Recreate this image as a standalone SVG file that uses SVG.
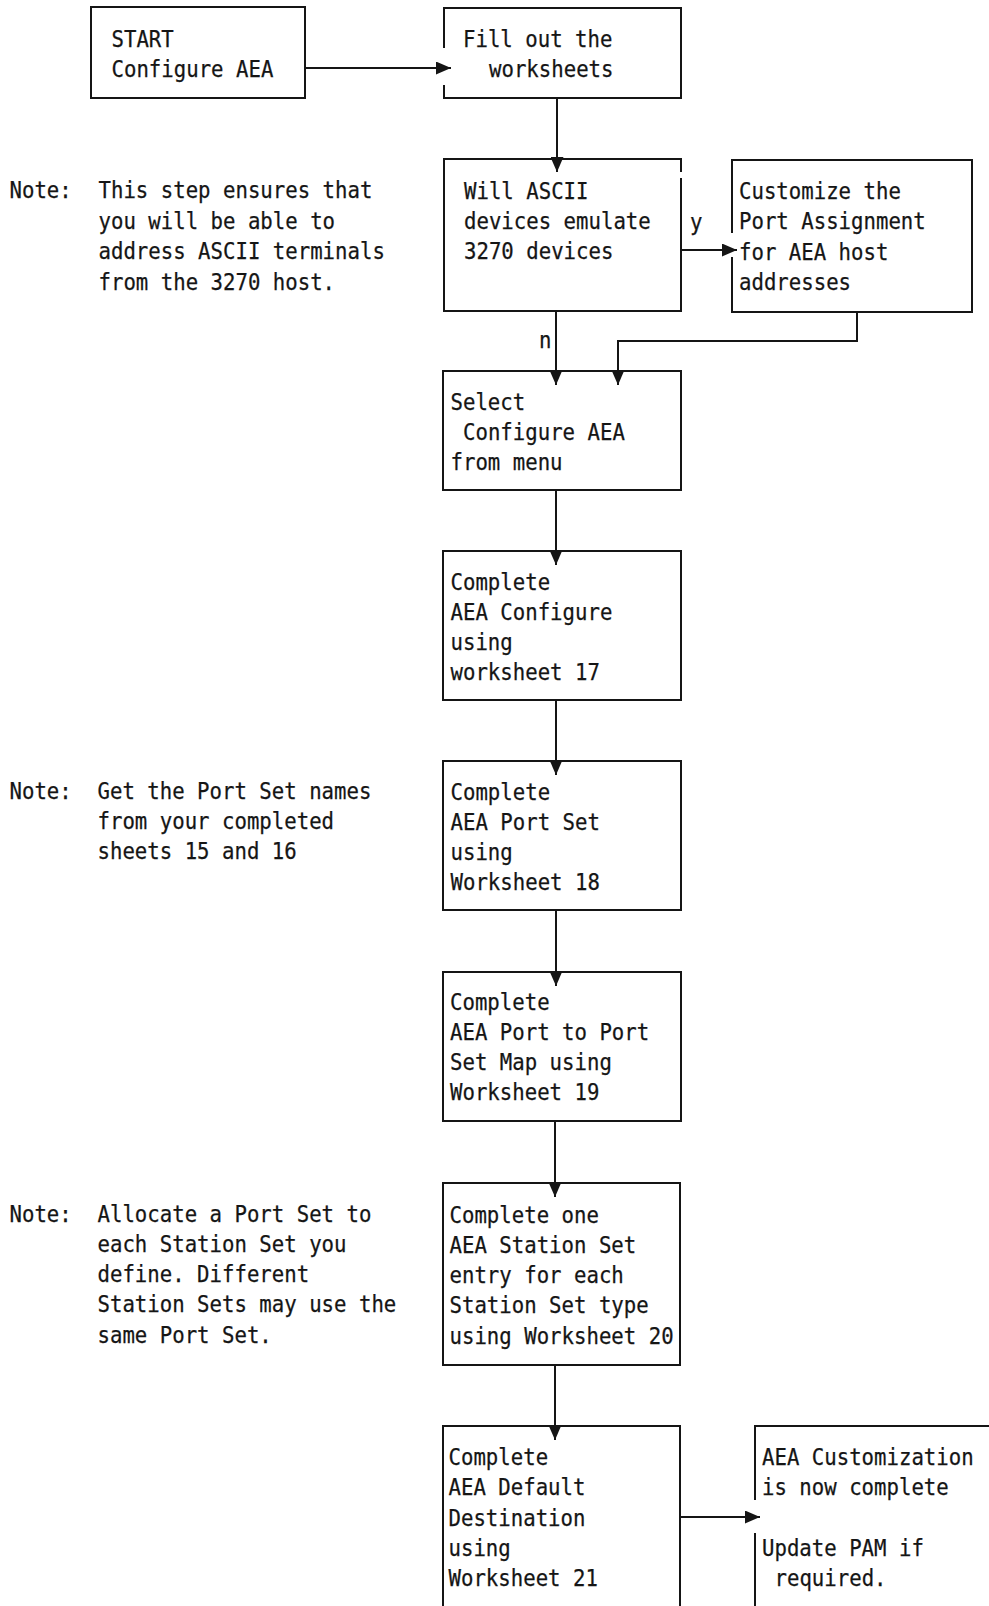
<svg xmlns="http://www.w3.org/2000/svg" width="989" height="1606" viewBox="0 0 989 1606">
  <style>
    .box { fill: none; stroke: #151515; stroke-width: 2; }
    .wire { fill: none; stroke: #151515; stroke-width: 2; }
    text { font-family: "DejaVu Sans Mono", "Liberation Mono", monospace; font-size: 22.5px; fill: #151515; stroke: #151515; stroke-width: 0.25; }
  </style>
  <defs>
    <marker id="arrow" viewBox="0 0 15 13" refX="15" refY="6.5" markerWidth="15" markerHeight="13" markerUnits="userSpaceOnUse" orient="auto">
      <path d="M0,0 L15,6.5 L0,13 z" fill="#151515"/>
    </marker>
  </defs>
  <rect width="989" height="1606" fill="#ffffff"/>

  <!-- connectors -->
  <g id="connectors">
    <path class="wire" d="M305,68 H451" marker-end="url(#arrow)"/>
    <path class="wire" d="M557,98 V172" marker-end="url(#arrow)"/>
    <path class="wire" d="M681,250 H737" marker-end="url(#arrow)"/>
    <text x="690" y="230" textLength="12.45" lengthAdjust="spacingAndGlyphs">y</text>
    <path class="wire" d="M556,311 V385" marker-end="url(#arrow)"/>
    <text x="539" y="348" textLength="12.45" lengthAdjust="spacingAndGlyphs">n</text>
    <path class="wire" d="M857,312 V341 H618 V385" marker-end="url(#arrow)"/>
    <path class="wire" d="M556,490 V565" marker-end="url(#arrow)"/>
    <path class="wire" d="M556,700 V775" marker-end="url(#arrow)"/>
    <path class="wire" d="M556,910 V986" marker-end="url(#arrow)"/>
    <path class="wire" d="M555,1121 V1197" marker-end="url(#arrow)"/>
    <path class="wire" d="M555,1365 V1440" marker-end="url(#arrow)"/>
    <path class="wire" d="M680,1517 H760" marker-end="url(#arrow)"/>
  </g>

  <!-- notes -->
  <g id="note-ascii">
    <text x="9.5" y="198" textLength="62.25" lengthAdjust="spacingAndGlyphs">Note:</text>
    <text x="98.5" y="198" textLength="273.9" lengthAdjust="spacingAndGlyphs">This step ensures that</text>
    <text x="98.5" y="228.5" textLength="236.55" lengthAdjust="spacingAndGlyphs">you will be able to</text>
    <text x="98.5" y="259" textLength="286.35" lengthAdjust="spacingAndGlyphs">address ASCII terminals</text>
    <text x="98.5" y="289.5" textLength="236.55" lengthAdjust="spacingAndGlyphs">from the 3270 host.</text>
  </g>
  <g id="note-portset">
    <text x="9.5" y="798.5" textLength="62.25" lengthAdjust="spacingAndGlyphs">Note:</text>
    <text x="97.5" y="798.5" textLength="273.9" lengthAdjust="spacingAndGlyphs">Get the Port Set names</text>
    <text x="97.5" y="829" textLength="236.55" lengthAdjust="spacingAndGlyphs">from your completed</text>
    <text x="97.5" y="859" textLength="199.2" lengthAdjust="spacingAndGlyphs">sheets 15 and 16</text>
  </g>
  <g id="note-station">
    <text x="9.5" y="1221.5" textLength="62.25" lengthAdjust="spacingAndGlyphs">Note:</text>
    <text x="97.5" y="1221.5" textLength="273.9" lengthAdjust="spacingAndGlyphs">Allocate a Port Set to</text>
    <text x="97.5" y="1251.5" textLength="249" lengthAdjust="spacingAndGlyphs">each Station Set you</text>
    <text x="97.5" y="1281.5" textLength="211.65" lengthAdjust="spacingAndGlyphs">define. Different</text>
    <text x="97.5" y="1312" textLength="298.8" lengthAdjust="spacingAndGlyphs">Station Sets may use the</text>
    <text x="97.5" y="1342.5" textLength="174.3" lengthAdjust="spacingAndGlyphs">same Port Set.</text>
  </g>

  <!-- flow steps -->
  <g id="start">
    <rect class="box" x="91" y="7" width="214" height="91"/>
    <text x="111.5" y="46.7" textLength="62.25" lengthAdjust="spacingAndGlyphs">START</text>
    <text x="111.5" y="76.7" textLength="161.85" lengthAdjust="spacingAndGlyphs">Configure AEA</text>
  </g>
  <g id="fill-worksheets">
    <path class="box" d="M444,48 V8 H681 V98 H444 V85"/>
    <text x="463" y="46.7" textLength="149.4" lengthAdjust="spacingAndGlyphs">Fill out the</text>
    <text x="489" y="76.7" textLength="124.5" lengthAdjust="spacingAndGlyphs">worksheets</text>
  </g>
  <g id="emulate-decision">
    <path class="box" d="M681,178 V311 H444 V159 H681 V172"/>
    <text x="464" y="198.6" textLength="124.5" lengthAdjust="spacingAndGlyphs">Will ASCII</text>
    <text x="464" y="229" textLength="186.75" lengthAdjust="spacingAndGlyphs">devices emulate</text>
    <text x="464" y="259" textLength="149.4" lengthAdjust="spacingAndGlyphs">3270 devices</text>
  </g>
  <g id="customize-port">
    <path class="box" d="M732,233 V160 H972 V312 H732 V257"/>
    <text x="739" y="198.6" textLength="161.85" lengthAdjust="spacingAndGlyphs">Customize the</text>
    <text x="739" y="229" textLength="186.75" lengthAdjust="spacingAndGlyphs">Port Assignment</text>
    <text x="739" y="259.5" textLength="149.4" lengthAdjust="spacingAndGlyphs">for AEA host</text>
    <text x="739" y="290" textLength="112.05" lengthAdjust="spacingAndGlyphs">addresses</text>
  </g>
  <g id="select-configure">
    <rect class="box" x="443" y="371" width="238" height="119"/>
    <text x="450.5" y="409.5" textLength="74.7" lengthAdjust="spacingAndGlyphs">Select</text>
    <text x="463" y="439.5" textLength="161.85" lengthAdjust="spacingAndGlyphs">Configure AEA</text>
    <text x="450.5" y="470" textLength="112.05" lengthAdjust="spacingAndGlyphs">from menu</text>
  </g>
  <g id="aea-configure">
    <rect class="box" x="443" y="551" width="238" height="149"/>
    <text x="450.5" y="589.5" textLength="99.6" lengthAdjust="spacingAndGlyphs">Complete</text>
    <text x="450.5" y="619.5" textLength="161.85" lengthAdjust="spacingAndGlyphs">AEA Configure</text>
    <text x="450.5" y="649.5" textLength="62.25" lengthAdjust="spacingAndGlyphs">using</text>
    <text x="450.5" y="679.5" textLength="149.4" lengthAdjust="spacingAndGlyphs">worksheet 17</text>
  </g>
  <g id="aea-port-set">
    <rect class="box" x="443" y="761" width="238" height="149"/>
    <text x="450.5" y="799.5" textLength="99.6" lengthAdjust="spacingAndGlyphs">Complete</text>
    <text x="450.5" y="829.5" textLength="149.4" lengthAdjust="spacingAndGlyphs">AEA Port Set</text>
    <text x="450.5" y="859.5" textLength="62.25" lengthAdjust="spacingAndGlyphs">using</text>
    <text x="450.5" y="889.5" textLength="149.4" lengthAdjust="spacingAndGlyphs">Worksheet 18</text>
  </g>
  <g id="aea-port-map">
    <rect class="box" x="443" y="972" width="238" height="149"/>
    <text x="450" y="1010" textLength="99.6" lengthAdjust="spacingAndGlyphs">Complete</text>
    <text x="450" y="1040" textLength="199.2" lengthAdjust="spacingAndGlyphs">AEA Port to Port</text>
    <text x="450" y="1070" textLength="161.85" lengthAdjust="spacingAndGlyphs">Set Map using</text>
    <text x="450" y="1100" textLength="149.4" lengthAdjust="spacingAndGlyphs">Worksheet 19</text>
  </g>
  <g id="aea-station-set">
    <rect class="box" x="443" y="1183" width="237" height="182"/>
    <text x="449.5" y="1223" textLength="149.4" lengthAdjust="spacingAndGlyphs">Complete one</text>
    <text x="449.5" y="1253" textLength="186.75" lengthAdjust="spacingAndGlyphs">AEA Station Set</text>
    <text x="449.5" y="1283" textLength="174.3" lengthAdjust="spacingAndGlyphs">entry for each</text>
    <text x="449.5" y="1313" textLength="199.2" lengthAdjust="spacingAndGlyphs">Station Set type</text>
    <text x="449.5" y="1343.5" textLength="224.1" lengthAdjust="spacingAndGlyphs">using Worksheet 20</text>
  </g>
  <g id="aea-default-dest">
    <path class="box" d="M443,1607 V1426 H680 V1607"/>
    <text x="448.5" y="1465" textLength="99.6" lengthAdjust="spacingAndGlyphs">Complete</text>
    <text x="448.5" y="1495" textLength="136.95" lengthAdjust="spacingAndGlyphs">AEA Default</text>
    <text x="448.5" y="1525.5" textLength="136.95" lengthAdjust="spacingAndGlyphs">Destination</text>
    <text x="448.5" y="1556" textLength="62.25" lengthAdjust="spacingAndGlyphs">using</text>
    <text x="448.5" y="1586" textLength="149.4" lengthAdjust="spacingAndGlyphs">Worksheet 21</text>
  </g>
  <g id="customization-complete">
    <path class="box" d="M755,1500 V1426 H990"/>
    <path class="box" d="M755,1533 V1607"/>
    <text x="762" y="1465" textLength="211.65" lengthAdjust="spacingAndGlyphs">AEA Customization</text>
    <text x="762" y="1495" textLength="186.75" lengthAdjust="spacingAndGlyphs">is now complete</text>
    <text x="762" y="1556" textLength="161.85" lengthAdjust="spacingAndGlyphs">Update PAM if</text>
    <text x="774.5" y="1586" textLength="112.05" lengthAdjust="spacingAndGlyphs">required.</text>
  </g>
</svg>
